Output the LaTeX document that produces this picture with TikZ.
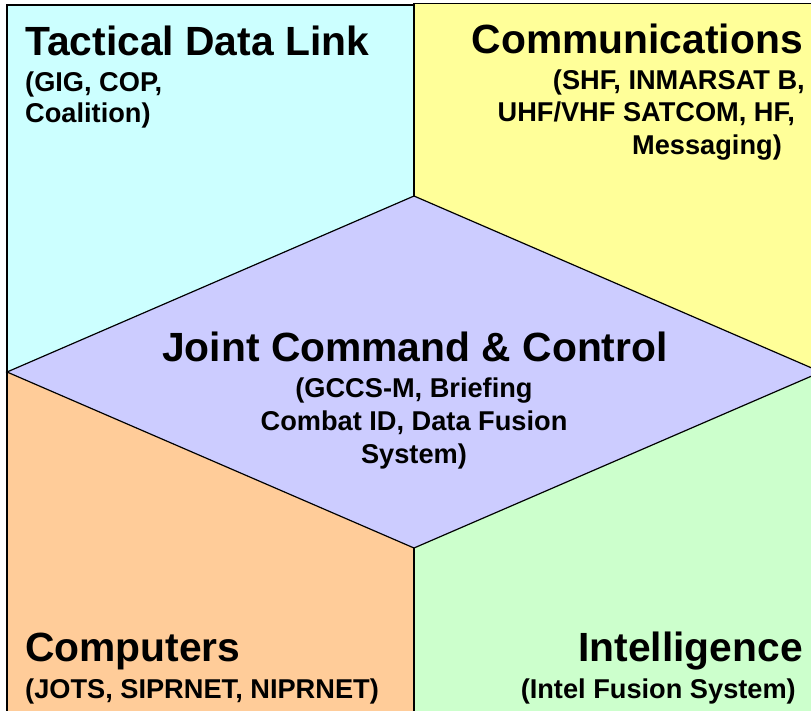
\documentclass[tikz,border=0pt]{standalone}
\usepackage{fontspec}
\setmainfont{Liberation Sans}
\definecolor{tdlc}{HTML}{CCFFFF}
\definecolor{comc}{HTML}{FFFF99}
\definecolor{cmpc}{HTML}{FFCC99}
\definecolor{intc}{HTML}{CCFFCC}
\definecolor{jccc}{HTML}{CCCCFF}
\begin{document}
\begin{tikzpicture}[x=1pt,y=-1pt,
  panel/.style={draw=black,line width=1.2pt,line join=miter},
  title/.style={font=\bfseries\fontsize{40.8}{46}\selectfont, inner sep=0pt},
  sub/.style={font=\bfseries\fontsize{27.2}{32}\selectfont, inner sep=0pt}]
\useasboundingbox (0,0) rectangle (811,710);
\fill[white] (0,0) rectangle (811,710);
\begin{scope}
\clip (0,0) rectangle (811,710);
\filldraw[panel, fill=tdlc] (7,5) rectangle (414,372);
\filldraw[panel, fill=comc] (414,3.5) rectangle (830,372);
\filldraw[panel, fill=cmpc] (7,372) rectangle (414,720);
\filldraw[panel, fill=intc] (414,372) rectangle (830,720);
\filldraw[panel, fill=jccc] (7,372) -- (414,196) -- (821,372) -- (414,548) -- cycle;
\end{scope}
\node[title, anchor=base west] (tdl) at (25,55.5) {Tactical Data Link};
\node[sub, anchor=base west] (tdl1) at (25,91) {(GIG, COP,};
\node[sub, anchor=base west] (tdl2) at (25,122) {Coalition)};
\node[title, anchor=base east] (com) at (803,53.5) {Communications};
\node[sub, anchor=base east] (com1) at (805,89) {(SHF, INMARSAT B,};
\node[sub, anchor=base east] (com2) at (795,121.5) {UHF/VHF SATCOM, HF,};
\node[sub, anchor=base east] (com3) at (782,154) {Messaging)};
\node[title, anchor=base] (jcc) at (415,361) {Joint Command \& Control};
\node[sub, anchor=base] (jcc1) at (414,397) {(GCCS-M, Briefing};
\node[sub, anchor=base] (jcc2) at (414,430) {Combat ID, Data Fusion};
\node[sub, anchor=base] (jcc3) at (414,463) {System)};
\node[title, anchor=base west] (cmp) at (25,661.5) {Computers};
\node[sub, anchor=base west] (cmp1) at (25,698.5) {(JOTS, SIPRNET, NIPRNET)};
\node[title, anchor=base east] (int) at (803,661.5) {Intelligence};
\node[sub, anchor=base east] (int1) at (796,698.5) {(Intel Fusion System)};
\end{tikzpicture}
\end{document}
